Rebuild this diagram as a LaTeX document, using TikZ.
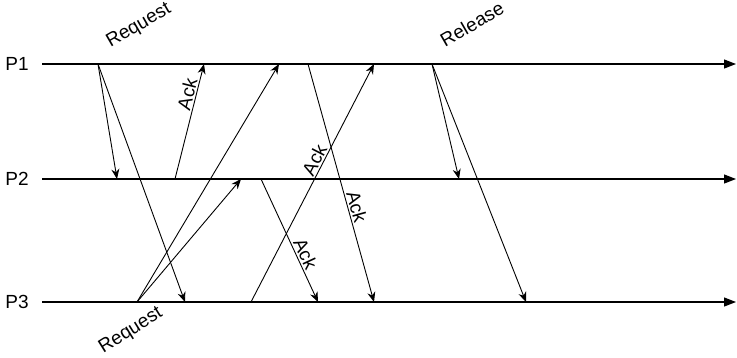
\documentclass[tikz,border=0pt]{standalone}
\usepackage{fontspec}
\setmainfont{Liberation Sans}
\usetikzlibrary{arrows.meta}

\begin{document}
\begin{tikzpicture}[x=1pt, y=-1pt,
        proc/.style={line width=1.2pt, -{Triangle[length=12pt,width=9pt]}},
        msg/.style={line width=0.9pt, -{Stealth[length=10pt,width=8pt]}},
        lbl/.style={font=\fontsize{19}{22}\selectfont, inner sep=1.5pt}]
    \useasboundingbox (0,0) rectangle (737,357);
    % processes
    \node[lbl] (p1) at (17,64) {P1};
    \node[lbl] (p2) at (17,179) {P2};
    \node[lbl] (p3) at (17,302) {P3};
    \coordinate (p1s) at (42,64);   \coordinate (p1e) at (736,64);
    \coordinate (p2s) at (42,179);  \coordinate (p2e) at (736,179);
    \coordinate (p3s) at (42,302);  \coordinate (p3e) at (736,302);
    \draw[proc] (p1s) -- (p1e);
    \draw[proc] (p2s) -- (p2e);
    \draw[proc] (p3s) -- (p3e);
    % events
    \coordinate (req1) at (98,64);    \coordinate (req1b) at (117,179);  \coordinate (req1c) at (185,302);
    \coordinate (req3) at (137,302);  \coordinate (req3a) at (279,64);   \coordinate (req3b) at (241,179);
    \coordinate (ack21) at (175,179); \coordinate (ack21e) at (204,64);
    \coordinate (ack23) at (261,179); \coordinate (ack23e) at (318,302);
    \coordinate (ack13) at (308,64);  \coordinate (ack13e) at (374,302);
    \coordinate (ack31) at (251,302); \coordinate (ack31e) at (374,64);
    \coordinate (rel1) at (432,64);   \coordinate (rel1b) at (459,179);  \coordinate (rel1c) at (526,302);
    % messages
    \draw[msg] (req1) -- (req1b);
    \draw[msg] (req1) -- (req1c);
    \draw[msg] (req3) -- (req3a);
    \draw[msg] (req3) -- (req3b);
    \draw[msg] (ack21) -- node[lbl, pos=0.72, sloped, above] (ackA) {Ack} (ack21e);
    \draw[msg] (ack23) -- node[lbl, pos=0.64, sloped, above] (ackB) {Ack} (ack23e);
    \draw[msg] (ack13) -- node[lbl, pos=0.61, sloped, above] (ackC) {Ack} (ack13e);
    \draw[msg] (ack31) -- node[lbl, pos=0.58, sloped, above] (ackD) {Ack} (ack31e);
    \draw[msg] (rel1) -- (rel1b);
    \draw[msg] (rel1) -- (rel1c);
    % labels
    \node[lbl, rotate=30] (reqtop) at (139,26) {Request};
    \node[lbl, rotate=32] (reqbot) at (131,331) {Request};
    \node[lbl, rotate=30] (reltop) at (472,24) {Release};
\end{tikzpicture}
\end{document}
